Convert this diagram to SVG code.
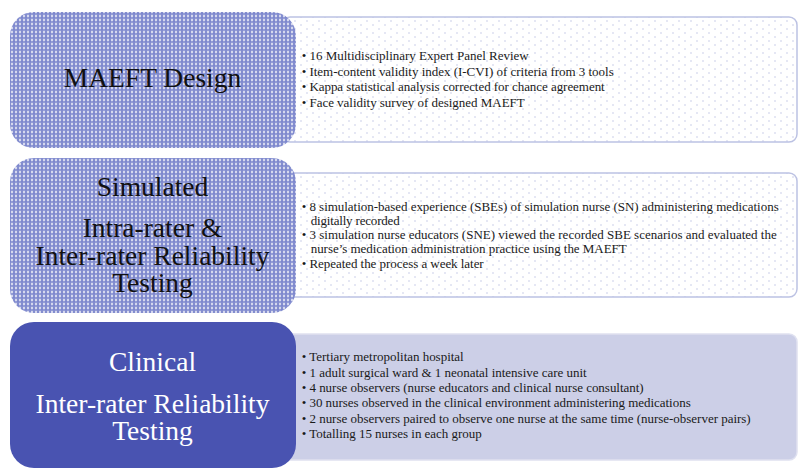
<svg xmlns="http://www.w3.org/2000/svg" width="798" height="470" viewBox="0 0 798 470">
  <defs>
    <!-- woven blue fill for the phase boxes -->
    <pattern id="weave" width="4" height="4" patternUnits="userSpaceOnUse">
      <rect width="4" height="4" fill="#ffffff"/>
      <circle cx="2" cy="2" r="1.9" fill="#6b77c6"/>
      <circle cx="2" cy="2" r="0.6" fill="#c8cdee"/>
    </pattern>
    <!-- sparse dot fill for the detail panels -->
    <pattern id="dots" width="12" height="8" patternUnits="userSpaceOnUse">
      <rect width="12" height="8" fill="#ffffff"/>
      <circle cx="1" cy="1" r="0.7" fill="#b9bee2"/>
      <circle cx="7" cy="5" r="0.7" fill="#b9bee2"/>
    </pattern>
    <style>
      text { font-family: 'Liberation Serif', Tinos, 'Times New Roman', 'DejaVu Serif', serif; }
      .phase { font-size: 27.5px; text-anchor: middle; fill: #111111; }
      .phase.light { fill: #ffffff; }
      .item { font-size: 13px; fill: #1a1a1a; }
      .panel { fill: url(#dots); stroke: #bcc2e3; stroke-width: 1.5; }
      .panel.solid { fill: #cccfe7; stroke: #dfe1f0; }
      .head { fill: url(#weave); }
      .head.solid { fill: #4953b1; }
    </style>
  </defs>

  <rect width="798" height="470" fill="#ffffff"/>

  <!-- Phase 1: design -->
  <g id="design-detail">
    <rect class="panel" x="282" y="17" width="515" height="125" rx="8"/>
    <text class="item" font-family="Liberation Serif, serif" x="301.7" y="60" textLength="227" lengthAdjust="spacing">• 16 Multidisciplinary Expert Panel Review</text>
    <text class="item" font-family="Liberation Serif, serif" x="301.7" y="75.5" textLength="312" lengthAdjust="spacing">• Item-content validity index (I-CVI) of criteria from 3 tools</text>
    <text class="item" font-family="Liberation Serif, serif" x="301.7" y="91" textLength="303" lengthAdjust="spacing">• Kappa statistical analysis corrected for chance agreement</text>
    <text class="item" font-family="Liberation Serif, serif" x="301.7" y="106.5" textLength="223" lengthAdjust="spacing">• Face validity survey of designed MAEFT</text>
  </g>
  <g id="design">
    <rect class="head" x="10" y="12" width="286" height="136" rx="24"/>
    <text class="phase" font-family="Liberation Serif, serif" x="152.5" y="87">MAEFT Design</text>
  </g>

  <!-- Phase 2: simulated reliability testing -->
  <g id="simulated-detail">
    <rect class="panel" x="282" y="173" width="515" height="124" rx="8"/>
    <text class="item" font-family="Liberation Serif, serif" x="301.7" y="211" textLength="477" lengthAdjust="spacing">• 8 simulation-based experience (SBEs) of simulation nurse (SN) administering medications</text>
    <text class="item" font-family="Liberation Serif, serif" x="310.7" y="224.5" textLength="89" lengthAdjust="spacing">digitally recorded</text>
    <text class="item" font-family="Liberation Serif, serif" x="301.7" y="239" textLength="475" lengthAdjust="spacing">• 3 simulation nurse educators (SNE) viewed the recorded SBE scenarios and evaluated the</text>
    <text class="item" font-family="Liberation Serif, serif" x="310.7" y="252.5" textLength="316" lengthAdjust="spacing">nurse’s medication administration practice using the MAEFT</text>
    <text class="item" font-family="Liberation Serif, serif" x="301.7" y="268" textLength="182" lengthAdjust="spacing">• Repeated the process a week later</text>
  </g>
  <g id="simulated">
    <rect class="head" x="10" y="158" width="286" height="155" rx="24"/>
    <text class="phase" font-family="Liberation Serif, serif" x="152.5" y="196">Simulated</text>
    <text class="phase" font-family="Liberation Serif, serif" x="152.5" y="237">Intra-rater &amp;</text>
    <text class="phase" font-family="Liberation Serif, serif" x="152.5" y="265">Inter-rater Reliability</text>
    <text class="phase" font-family="Liberation Serif, serif" x="152.5" y="292">Testing</text>
  </g>

  <!-- Phase 3: clinical reliability testing -->
  <g id="clinical-detail">
    <rect class="panel solid" x="282" y="334" width="515" height="126" rx="8"/>
    <text class="item" font-family="Liberation Serif, serif" x="301.7" y="361" textLength="162" lengthAdjust="spacing">• Tertiary metropolitan hospital</text>
    <text class="item" font-family="Liberation Serif, serif" x="301.7" y="376.5" textLength="285" lengthAdjust="spacing">• 1 adult surgical ward &amp; 1 neonatal intensive care unit</text>
    <text class="item" font-family="Liberation Serif, serif" x="301.7" y="392" textLength="342" lengthAdjust="spacing">• 4 nurse observers (nurse educators and clinical nurse consultant)</text>
    <text class="item" font-family="Liberation Serif, serif" x="301.7" y="407" textLength="389" lengthAdjust="spacing">• 30 nurses observed in the clinical environment administering medications</text>
    <text class="item" font-family="Liberation Serif, serif" x="301.7" y="422.5" textLength="449" lengthAdjust="spacing">• 2 nurse observers paired to observe one nurse at the same time (nurse-observer pairs)</text>
    <text class="item" font-family="Liberation Serif, serif" x="301.7" y="437.5" textLength="180" lengthAdjust="spacing">• Totalling 15 nurses in each group</text>
  </g>
  <g id="clinical">
    <rect class="head solid" x="10" y="322" width="286" height="146" rx="24"/>
    <text class="phase light" font-family="Liberation Serif, serif" x="152.5" y="371">Clinical</text>
    <text class="phase light" font-family="Liberation Serif, serif" x="152.5" y="413">Inter-rater Reliability</text>
    <text class="phase light" font-family="Liberation Serif, serif" x="152.5" y="440">Testing</text>
  </g>
</svg>
